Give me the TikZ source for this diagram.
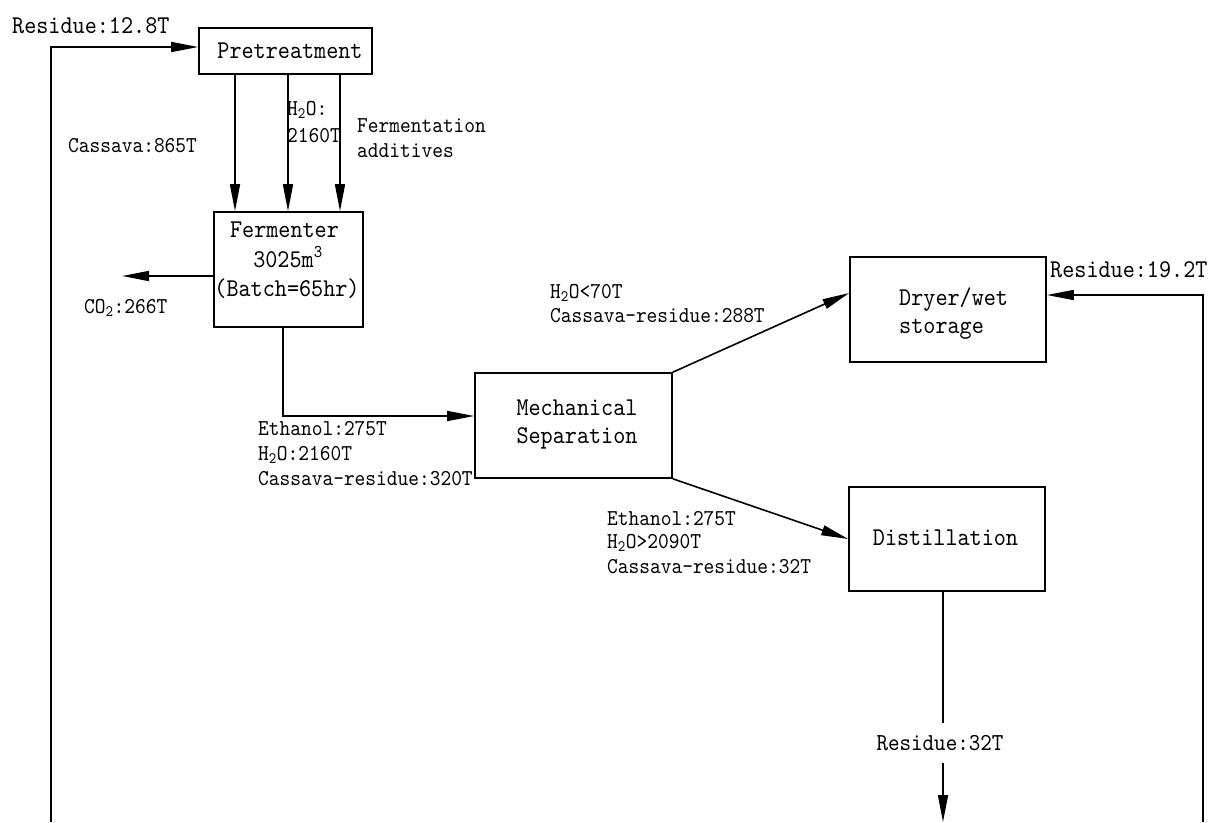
\documentclass[tikz,border=0pt]{standalone}
\usepackage{fontspec}
\setmonofont{lmmono10-regular}[Extension=.otf, FakeStretch=0.9]
\usetikzlibrary{arrows.meta}
\tikzset{
  every picture/.style={x=1pt,y=-1pt},
  ln/.style={line width=1.6pt, draw=black},
  arr/.style={ln, -{Triangle[length=27pt,width=10pt]}},
  box/.style={ln, rectangle, inner sep=0pt, minimum width=#1},
  lab/.style={font=\ttfamily\fontsize{22.7}{26}\selectfont, inner sep=0pt, anchor=base west},
  labb/.style={font=\ttfamily\fontsize{25.6}{30}\selectfont, inner sep=0pt, anchor=base west},
  btxt/.style={font=\ttfamily\fontsize{25.6}{30}\selectfont, inner sep=0pt, anchor=base},
}
\begin{document}
\begin{tikzpicture}
\useasboundingbox (0,0) rectangle (1209,822);
% boxes
\node[box=173pt, minimum height=46pt] (pre) at (285.5,51) {};
\node[box=149pt, minimum height=115pt] (ferm) at (288.5,269.5) {};
\node[box=197pt, minimum height=105pt] (mech) at (573.5,425.5) {};
\node[box=196pt, minimum height=105pt] (dry) at (948,309.5) {};
\node[box=196pt, minimum height=104pt] (dist) at (947,539) {};
% box texts
\node[btxt] (tpre) at (290,58) {Pretreatment};
\node[btxt] (tf1) at (284.5,237) {Fermenter};
\node[btxt] (tf2) at (288,267) {3025m\textsuperscript{3}};
\node[btxt] (tf3) at (287,296) {(Batch=65hr)};
\node[btxt] (tm1) at (577,415) {Mechanical};
\node[btxt] (tm2) at (577,443) {Separation};
\node[labb] (td1) at (899,305) {Dryer/wet};
\node[labb] (td2) at (899,333) {storage};
\node[btxt] (tdi) at (945.5,545) {Distillation};
% labels
\node[labb] (lres1) at (12,33) {Residue:12.8T};
\node[lab] (lcas) at (68,152) {Cassava:865T};
\node[lab] (lh1) at (287,115) {H\textsubscript{2}O:};
\node[lab] (lh2) at (287,142) {2160T};
\node[lab] (lfa1) at (357,132) {Fermentation};
\node[lab] (lfa2) at (357,157) {additives};
\node[lab] (lco2) at (84,313) {CO\textsubscript{2}:266T};
\node[lab] (le1) at (258,435) {Ethanol:275T};
\node[lab] (le2) at (258,460) {H\textsubscript{2}O:2160T};
\node[lab] (le3) at (258,485) {Cassava-residue:320T};
\node[lab] (ld1) at (550,298) {H\textsubscript{2}O<70T};
\node[lab] (ld2) at (550,322) {Cassava-residue:288T};
\node[labb] (lres2) at (1050,277) {Residue:19.2T};
\node[lab] (ls1) at (607,525) {Ethanol:275T};
\node[lab] (ls2) at (607,548) {H\textsubscript{2}O>2090T};
\node[lab] (ls3) at (607,573) {Cassava-residue:32T};
\node[font=\ttfamily\fontsize{24.4}{28}\selectfont, inner sep=0pt, minimum height=40pt] (res32) at (940,743) {Residue:32T};
% coordinates
\coordinate (botL) at (51,822);
\coordinate (preIn) at (199,47);
\coordinate (v1) at (235,0);
\coordinate (v2) at (288,0);
\coordinate (v3) at (340,0);
\coordinate (co2tip) at (122,276);
\coordinate (fv) at (283,0);
\coordinate (mIn) at (0,416);
\coordinate (dIn) at (0,293);
\coordinate (dv) at (943,0);
\coordinate (bot3) at (943,822);
\coordinate (botR) at (1203,822);
\coordinate (dIn2) at (0,295);
% connectors
\draw[arr] (botL) |- (pre.west |- preIn);
\draw[arr] (pre.south -| v1) -- (ferm.north -| v1);
\draw[arr] (pre.south -| v2) -- (ferm.north -| v2);
\draw[arr] (pre.south -| v3) -- (ferm.north -| v3);
\draw[arr] (ferm.west |- co2tip) -- (co2tip);
\draw[arr] (ferm.south -| fv) |- (mech.west |- mIn);
\draw[arr] (mech.north east) -- (dry.west |- dIn);
\draw[arr] (mech.south east) -- (dist.west);
\draw[ln] (dist.south -| dv) -- (res32.north -| dv);
\draw[arr] (res32.south -| dv) -- (bot3);
\draw[arr] (botR) |- (dry.east |- dIn2);
\end{tikzpicture}
\end{document}
